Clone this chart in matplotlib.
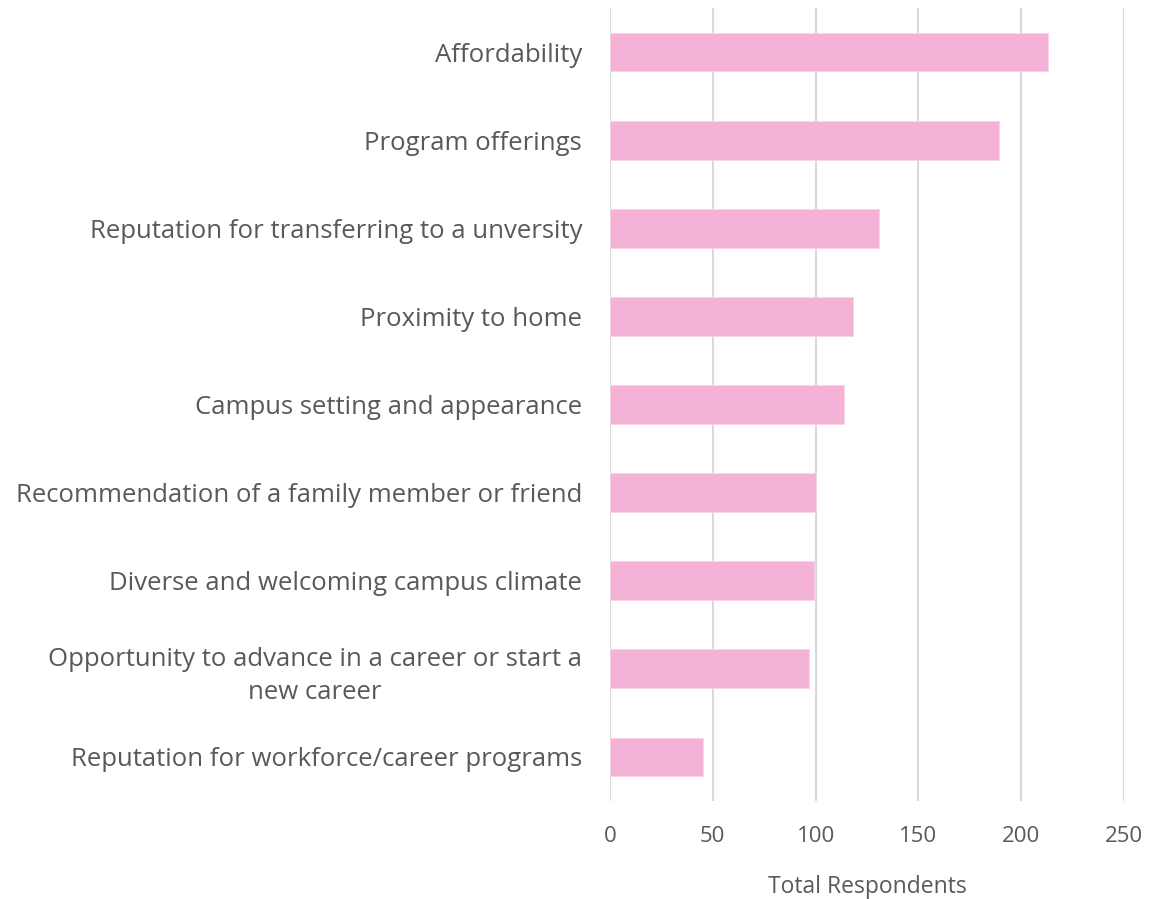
import matplotlib
matplotlib.use("Agg")
import matplotlib.pyplot as plt

categories = [
    "Affordability",
    "Program offerings",
    "Reputation for transferring to a unversity",
    "Proximity to home",
    "Campus setting and appearance",
    "Recommendation of a family member or friend",
    "Diverse and welcoming campus climate",
    "Opportunity to advance in a career or start a\nnew career",
    "Reputation for workforce/career programs",
]
values = [213, 189, 131, 118, 114, 100, 99, 97, 45]
xticks = [0, 50, 100, 150, 200, 250]
xlabel = "Total Respondents"

plt.rcParams['font.family'] = ['Open Sans', 'DejaVu Sans']
text_color = "#595959"

fig = plt.figure(figsize=(11.70, 8.99), dpi=100)
ax = fig.add_axes([610/1170, 1 - 801/899, (1124-610)/1170, (801-8)/899])

y = list(range(len(categories)))
ax.barh(y, values, height=0.44, color="#F4B3D6", edgecolor="#F9D3E7", linewidth=0.6, zorder=3)
ax.set_ylim(len(categories) - 0.5, -0.5)
ax.set_xlim(0, 250)
ax.set_xticks(xticks)
ax.set_xticklabels([str(t) for t in xticks])
ax.set_yticks(y)
ax.set_yticklabels(categories, multialignment='center', linespacing=1.45)

ax.grid(axis='x', color="#D9D9D9", linewidth=1.5, zorder=0)
ax.grid(axis='y', visible=False)
for s in ax.spines.values():
    s.set_visible(False)
ax.tick_params(axis='y', length=0, pad=20, labelsize=18.5, labelcolor=text_color)
ax.tick_params(axis='x', length=0, pad=18, labelsize=16, labelcolor=text_color)
ax.set_xlabel(xlabel, fontsize=16.5, color=text_color, labelpad=20)

fig.savefig("out.png", dpi=100)
